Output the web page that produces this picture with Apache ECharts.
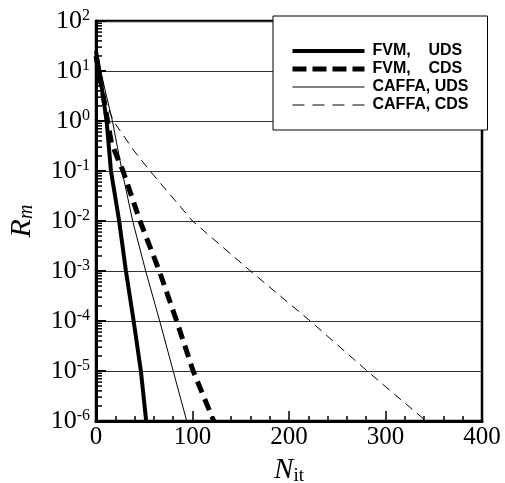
<!DOCTYPE html>
<html>
<head>
<meta charset="utf-8">
<script src="https://cdn.jsdelivr.net/npm/echarts@6/dist/echarts.min.js"></script>
<style>
  html, body { margin: 0; padding: 0; background: #fff; }
  #chart { width: 505px; height: 483px; }
</style>
</head>
<body>
<div id="chart"></div>
<script>
// 曲线数据 (N_it, R_m)
const fvmUdsX = [0, 3.5, 11, 15.5, 24, 31, 39, 46.5, 52]
const fvmUdsY = [25, 10, 1, 0.1, 0.01, 1e-3, 1e-4, 1e-5, 1e-6]

const fvmCdsX = [0, 5, 12, 16, 28, 45.6, 65.6, 83.6, 100.7, 122]
const fvmCdsY = [20, 6, 1, 0.36, 0.1, 0.01, 1e-3, 1e-4, 1e-5, 1e-6]

const caffaUdsX = [0, 6, 17, 27, 38, 51.5, 66, 80, 94]
const caffaUdsY = [15, 8, 1, 0.1, 0.01, 1e-3, 1e-4, 1e-5, 1e-6]

const caffaCdsX = [0, 11, 18, 39, 56, 100, 160, 222, 281, 342]
const caffaCdsY = [12, 2.2, 1, 0.26, 0.1, 0.01, 1e-3, 1e-4, 1e-5, 1e-6]

const seriesNames = ['FVM,    UDS', 'FVM,    CDS', 'CAFFA, UDS', 'CAFFA, CDS']

// 对数轴次刻度 2..9 x 10^n
const minorTickVals = []
for (let e = -6; e < 2; e++) {
  for (let k = 2; k <= 9; k++) minorTickVals.push(k * Math.pow(10, e))
}

const zip = (xs, ys) => xs.map((x, i) => [x, ys[i]])
const serif = 'Liberation Serif'

// 每条线的样式
const lineStyles = [
  { color: '#000', width: 4, type: 'solid' },
  { color: '#000', width: 5, type: [12, 7] },
  { color: '#000', width: 1, type: 'solid' },
  { color: '#000', width: 1, type: [9, 6] }
]
const legendLineStyles = [
  { color: '#000', width: 4, type: 'solid' },
  { color: '#000', width: 5, type: [14, 6] },
  { color: '#000', width: 1, type: 'solid' },
  { color: '#000', width: 1, type: [12, 8] }
]
const allX = [fvmUdsX, fvmCdsX, caffaUdsX, caffaCdsX]
const allY = [fvmUdsY, fvmCdsY, caffaUdsY, caffaCdsY]

const chart = echarts.init(document.getElementById('chart'), null, { renderer: 'canvas' })

const option = {
  backgroundColor: '#fff',
  animation: false,
  grid: {
    left: 96, top: 21, right: 23, bottom: 62,
    outerBoundsMode: 'none',
    containLabel: false,
    show: true, borderColor: '#000', borderWidth: 2.5, backgroundColor: 'transparent'
  },
  legend: {
    orient: 'vertical',
    left: 273, top: 16,
    padding: [27, 19, 17, 17],
    backgroundColor: '#fff',
    borderColor: '#000',
    borderWidth: 1,
    itemWidth: 72, itemHeight: 14, itemGap: 2,
    itemStyle: { color: 'transparent', borderWidth: 0, opacity: 0 },
    data: seriesNames.map((n, i) => ({ name: n, lineStyle: legendLineStyles[i] })),
    textStyle: {
      fontFamily: 'Liberation Sans', fontWeight: 'bold', fontSize: 16,
      color: '#000', lineHeight: 14, padding: [0, 0, 0, 3]
    }
  },
  xAxis: {
    type: 'value', min: 0, max: 400, interval: 100,
    name: '{n|N}{s|it}',
    nameLocation: 'middle', nameGap: 21,
    nameTextStyle: {
      rich: {
        n: { fontFamily: serif, fontStyle: 'italic', fontSize: 29, color: '#000', lineHeight: 30, verticalAlign: 'top' },
        s: { fontFamily: serif, fontSize: 19, color: '#000', lineHeight: 30, verticalAlign: 'bottom', padding: [12, 0, 0, 0] }
      }
    },
    axisLine: { show: true, lineStyle: { color: '#000', width: 3 } },
    axisTick: { show: true, inside: true, length: 10, lineStyle: { color: '#000', width: 1.5 } },
    minorTick: { show: true, splitNumber: 5, length: 5, lineStyle: { color: '#000', width: 1.5 } },
    axisLabel: { fontFamily: serif, fontSize: 25, color: '#000', margin: 4 },
    splitLine: { show: false }
  },
  yAxis: {
    type: 'log', logBase: 10, min: 1e-6, max: 100, interval: 1,
    name: '{r|R}{s|m}',
    nameLocation: 'middle', nameGap: 59, nameRotate: 90,
    nameTextStyle: {
      rich: {
        r: { fontFamily: serif, fontStyle: 'italic', fontSize: 30, color: '#000', lineHeight: 30, verticalAlign: 'top' },
        s: { fontFamily: serif, fontStyle: 'italic', fontSize: 20, color: '#000', lineHeight: 30, verticalAlign: 'bottom', padding: [10, 0, 0, 0] }
      }
    },
    axisLine: { show: true, lineStyle: { color: '#000', width: 3 } },
    axisTick: { show: true, inside: true, length: 10, lineStyle: { color: '#000', width: 2 } },
    axisLabel: {
      margin: 6,
      formatter: function (v) {
        const e = Math.round(Math.log10(v))
        return '{b|10}{s|' + e + '}'
      },
      rich: {
        b: { fontFamily: serif, fontSize: 26, color: '#000', lineHeight: 26, verticalAlign: 'bottom' },
        s: { fontFamily: serif, fontSize: 16, color: '#000', lineHeight: 16, verticalAlign: 'top' }
      }
    },
    splitLine: { show: true, lineStyle: { color: '#333', width: 1 } }
  },
  series: seriesNames.map((n, i) => ({
    name: n, type: 'line', symbol: 'none', showSymbol: false,
    lineStyle: lineStyles[i],
    itemStyle: { color: '#000' },
    data: zip(allX[i], allY[i])
  })).concat([
    {
      // 左轴次刻度
      type: 'custom', silent: true, clip: false, z: 5,
      data: minorTickVals.map(v => [0, v]),
      renderItem: function (params, api) {
        const p = api.coord([0, api.value(1)])
        return {
          type: 'line',
          shape: { x1: p[0], y1: p[1], x2: p[0] + 6, y2: p[1] },
          style: { stroke: '#000', lineWidth: 1.5 }
        }
      }
    }
  ])
}

chart.setOption(option)
</script>
</body>
</html>
